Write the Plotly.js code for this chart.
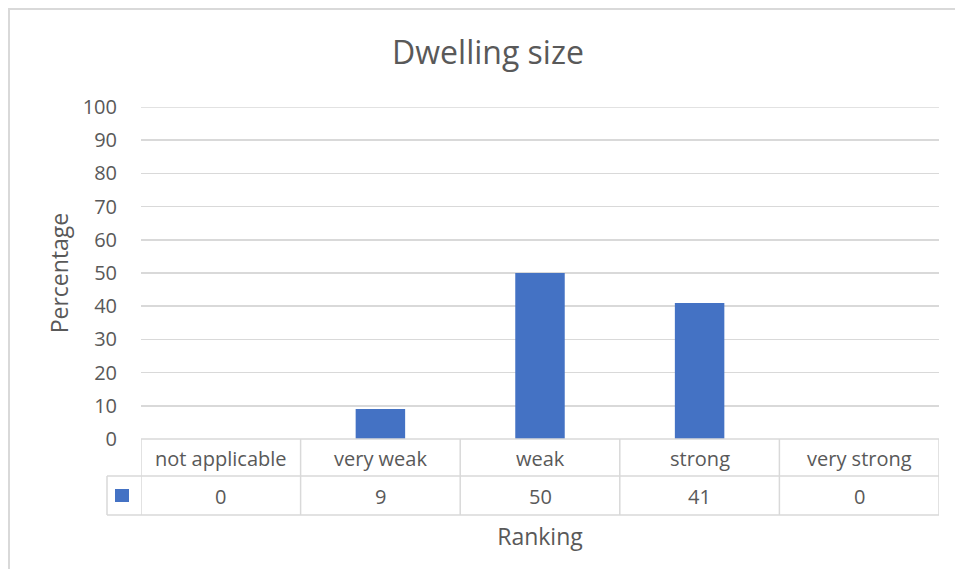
<!DOCTYPE html>
<html>
<head>
<meta charset="utf-8">
<script src="https://cdn.plot.ly/plotly-3.0.1.min.js"></script>
<style>
  html, body { margin: 0; padding: 0; background: #ffffff; }
  #wrap { position: relative; width: 955px; height: 576px; overflow: hidden; }
  #frame { position: absolute; left: 8px; top: 8px; width: 980px; height: 561px;
           border-top: 2px solid #d9d9d9; border-left: 2px solid #d9d9d9; box-sizing: border-box; pointer-events: none; }
  #chart { position: absolute; left: 0; top: 0; width: 955px; height: 576px; }
</style>
</head>
<body>
<div id="wrap">
  <div id="chart"></div>
  <div id="frame"></div>
</div>
<script>
// Ranking categories and the share of answers in each (percent)
const categories = ['not applicable', 'very weak', 'weak', 'strong', 'very strong'];
const percentages = [0, 9, 50, 41, 0];
const yTicks = [0, 10, 20, 30, 40, 50, 60, 70, 80, 90, 100];

const barColor = '#4472C4';
const gridColor = '#d9d9d9';
const textColor = '#595959';
const FONT = '"Open Sans", "Noto Sans", sans-serif';

// Plot-area geometry in pixels (used to lay out the data table under the axis)
const W = 955, H = 576;
const M = { l: 141, r: 16, t: 107, b: 137 };
const plotH = H - M.t - M.b;
const plotW = W - M.l - M.r;
const py = px => -(px) / plotH;          // pixels below the axis -> paper y
const px2paper = px => px / plotW;       // pixels from the left edge -> paper x

const row1Bottom = 37, row2Bottom = 76; // table row edges below the axis
const keyLeft = -34;                    // legend-key cell reaches left of the plot

const shapes = [];
const line = (x0, y0, x1, y1, xref, yref) => shapes.push({
  type: 'line', xref: xref, yref: yref || 'paper', x0: x0, x1: x1, y0: y0, y1: y1,
  line: { color: gridColor, width: 1.5 }, layer: 'above'
});

// top gridline sits on the edge of the range, so draw it explicitly
line(-0.5, yTicks[yTicks.length - 1], 4.5, yTicks[yTicks.length - 1], 'x', 'y');
// horizontal table lines
line(-0.5, 0, 4.5, 0, 'x');
line(px2paper(keyLeft), py(row1Bottom), 1, py(row1Bottom), 'paper');
line(px2paper(keyLeft), py(row2Bottom), 1, py(row2Bottom), 'paper');
// vertical table lines at category boundaries
for (let i = 0; i <= categories.length; i++) {
  line(i - 0.5, 0, i - 0.5, py(row2Bottom), 'x');
}
line(px2paper(keyLeft), py(row1Bottom), px2paper(keyLeft), py(row2Bottom), 'paper');
// series key swatch
shapes.push({
  type: 'rect', xref: 'paper', yref: 'paper',
  x0: px2paper(-26), x1: px2paper(-12), y0: py(50), y1: py(63),
  fillcolor: barColor, line: { width: 0 }
});

const cellFont = { family: FONT, size: 20, color: textColor };
const annotations = [];
categories.forEach((c, i) => {
  annotations.push({ x: i, y: py(row1Bottom / 2 + 1), xref: 'x', yref: 'paper', text: c,
    xanchor: 'center', yanchor: 'middle', showarrow: false, font: cellFont });
  annotations.push({ x: i, y: py((row1Bottom + row2Bottom) / 2 + 1), xref: 'x', yref: 'paper',
    text: String(percentages[i]), xanchor: 'center', yanchor: 'middle', showarrow: false,
    font: cellFont });
});

const data = [{
  type: 'bar', x: categories.map((c, i) => i), y: percentages,
  marker: { color: barColor, line: { width: 0 } },
  hoverinfo: 'skip'
}];

const layout = {
  width: W, height: H,
  margin: M,
  paper_bgcolor: 'rgba(0,0,0,0)', plot_bgcolor: 'rgba(0,0,0,0)',
  showlegend: false,
  bargap: 0.69,
  font: { family: FONT, color: textColor },
  title: { text: 'Dwelling size', font: { family: FONT, size: 32, color: textColor },
           x: 488 / W, xref: 'container', xanchor: 'center', y: 1 - 53 / H, yref: 'container', yanchor: 'middle' },
  xaxis: {
    range: [-0.5, 4.5], showticklabels: false, ticks: '', showgrid: false, zeroline: false,
    showline: false, fixedrange: true,
    title: { text: 'Ranking', font: { family: FONT, size: 23, color: textColor }, standoff: 89 }
  },
  yaxis: {
    range: [0, 100], tickvals: yTicks, ticktext: yTicks.map(String),
    showgrid: true, gridcolor: gridColor, gridwidth: 1.5, zeroline: false, showline: false,
    ticks: 'outside', ticklen: 19, tickcolor: 'rgba(0,0,0,0)',
    tickfont: { family: FONT, size: 20, color: textColor }, fixedrange: true,
    title: { text: 'Percentage', font: { family: FONT, size: 23, color: textColor }, standoff: 7 }
  },
  shapes: shapes,
  annotations: annotations
};

Plotly.newPlot('chart', data, layout, { displayModeBar: false, staticPlot: true });
</script>
</body>
</html>
